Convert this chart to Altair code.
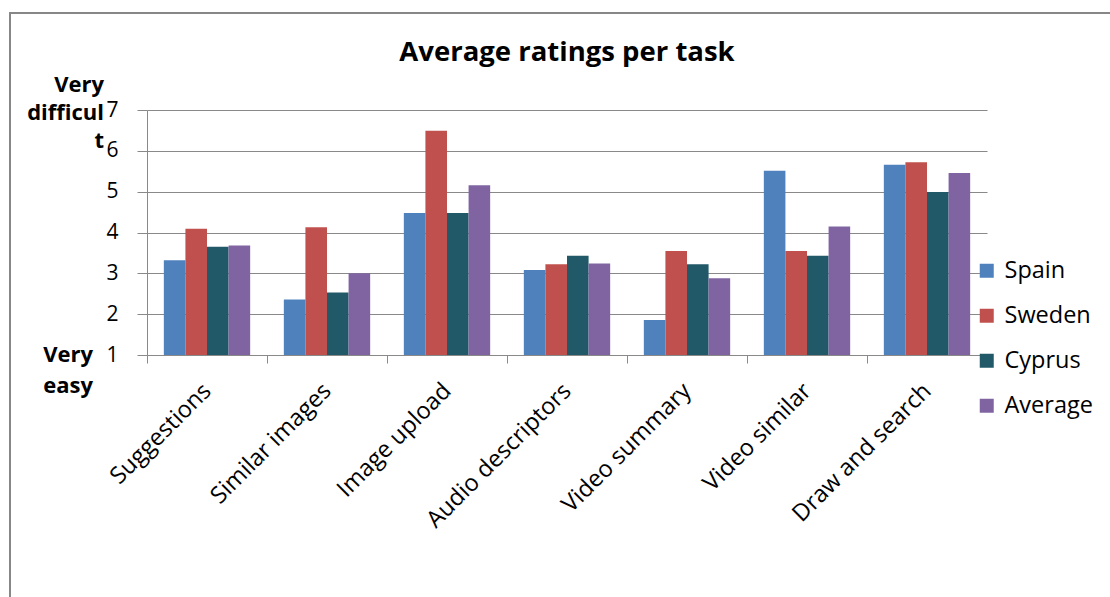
import altair as alt
import pandas as pd

# Tasks on the x axis and the four rating series
tasks = ["Suggestions", "Similar images", "Image upload", "Audio descriptors",
         "Video summary", "Video similar", "Draw and search"]
series = ["Spain", "Sweden", "Cyprus", "Average"]
spain = [3.32, 2.36, 4.48, 3.08, 1.86, 5.51, 5.66]
sweden = [4.09, 4.13, 6.49, 3.22, 3.55, 3.55, 5.72]
cyprus = [3.65, 2.53, 4.48, 3.43, 3.22, 3.43, 4.99]
average = [3.68, 3.00, 5.16, 3.24, 2.88, 4.15, 5.46]
colors = ["#4F81BD", "#C0504D", "#215968", "#8064A2"]
y_ticks = [1, 2, 3, 4, 5, 6, 7]
scale_min, scale_max = 1, 7

rows = []
for name, vals in zip(series, [spain, sweden, cyprus, average]):
    for task, v in zip(tasks, vals):
        rows.append({"task": task, "series": name, "rating": v, "base": scale_min})
df = pd.DataFrame(rows)

FONT = "Open Sans"
GRID = "#898989"
W, H = 840, 245

bars = alt.Chart(df).mark_bar().encode(
    x=alt.X("task:N", sort=tasks, title=None,
            scale=alt.Scale(paddingInner=0, paddingOuter=0),
            axis=alt.Axis(labelAngle=-45, labelFont=FONT, labelFontSize=23.5,
                          labelColor="black", labelBaseline="middle",
                          labelLimit=0, tickBand="extent", tickSize=8,
                          tickColor=GRID, domainColor=GRID, labelPadding=24,
                          grid=False)),
    xOffset=alt.XOffset("series:N", sort=series,
                        scale=alt.Scale(paddingInner=0, paddingOuter=0.78)),
    y=alt.Y("rating:Q", title=None,
            scale=alt.Scale(domain=[scale_min, scale_max], nice=False, zero=False),
            axis=alt.Axis(values=y_ticks, format="d", grid=True, gridColor=GRID,
                          domainColor=GRID, tickColor=GRID, tickSize=10,
                          labelPadding=19, labelFont=FONT, labelFontSize=21,
                          labelColor="black")),
    y2="base:Q",
    color=alt.Color("series:N", sort=series,
                    scale=alt.Scale(domain=series, range=colors),
                    legend=alt.Legend(title=None, orient="none", legendX=828,
                                      legendY=149, symbolType="square",
                                      symbolSize=196, symbolStrokeWidth=0,
                                      labelFont=FONT, labelFontSize=23.5,
                                      labelColor="black", rowPadding=20,
                                      labelOffset=6)),
)

# Axis end captions placed against the y scale
hard = alt.Chart(pd.DataFrame({"label": ["Very\ndifficul\nt"], "v": [scale_max]})).mark_text(
    lineBreak="\n", align="right", baseline="alphabetic", dy=-18,
    font=FONT, fontWeight="bold", fontSize=22, lineHeight=28, color="black"
).encode(x=alt.value(-43), y=alt.Y("v:Q", title=None), text="label:N")

easy = alt.Chart(pd.DataFrame({"label": ["Very\neasy"], "v": [scale_min]})).mark_text(
    lineBreak="\n", align="right", baseline="alphabetic", dy=7,
    font=FONT, fontWeight="bold", fontSize=22, lineHeight=31, color="black"
).encode(x=alt.value(-54), y=alt.Y("v:Q", title=None), text="label:N")

title = alt.Chart(pd.DataFrame({"t": ["Average ratings per task"]})).mark_text(
    align="center", baseline="alphabetic", font=FONT, fontWeight="bold",
    fontSize=27.5, color="black"
).encode(x=alt.value(W / 2), y=alt.value(-49), text="t:N")

frame = alt.Chart(pd.DataFrame({"f": [0]})).mark_rect(
    fill="transparent", stroke="#878787", strokeWidth=2
).encode(x=alt.value(-137), y=alt.value(-97), x2=alt.value(1000), y2=alt.value(600))

chart = alt.layer(frame, bars, hard, easy, title).properties(
    width=W, height=H, autosize="none",
    padding={"left": 147, "top": 110, "right": 123, "bottom": 242},
    background="white",
).configure_view(stroke=None)

chart.save("out.html", embed_options={"renderer": "svg", "actions": False})
